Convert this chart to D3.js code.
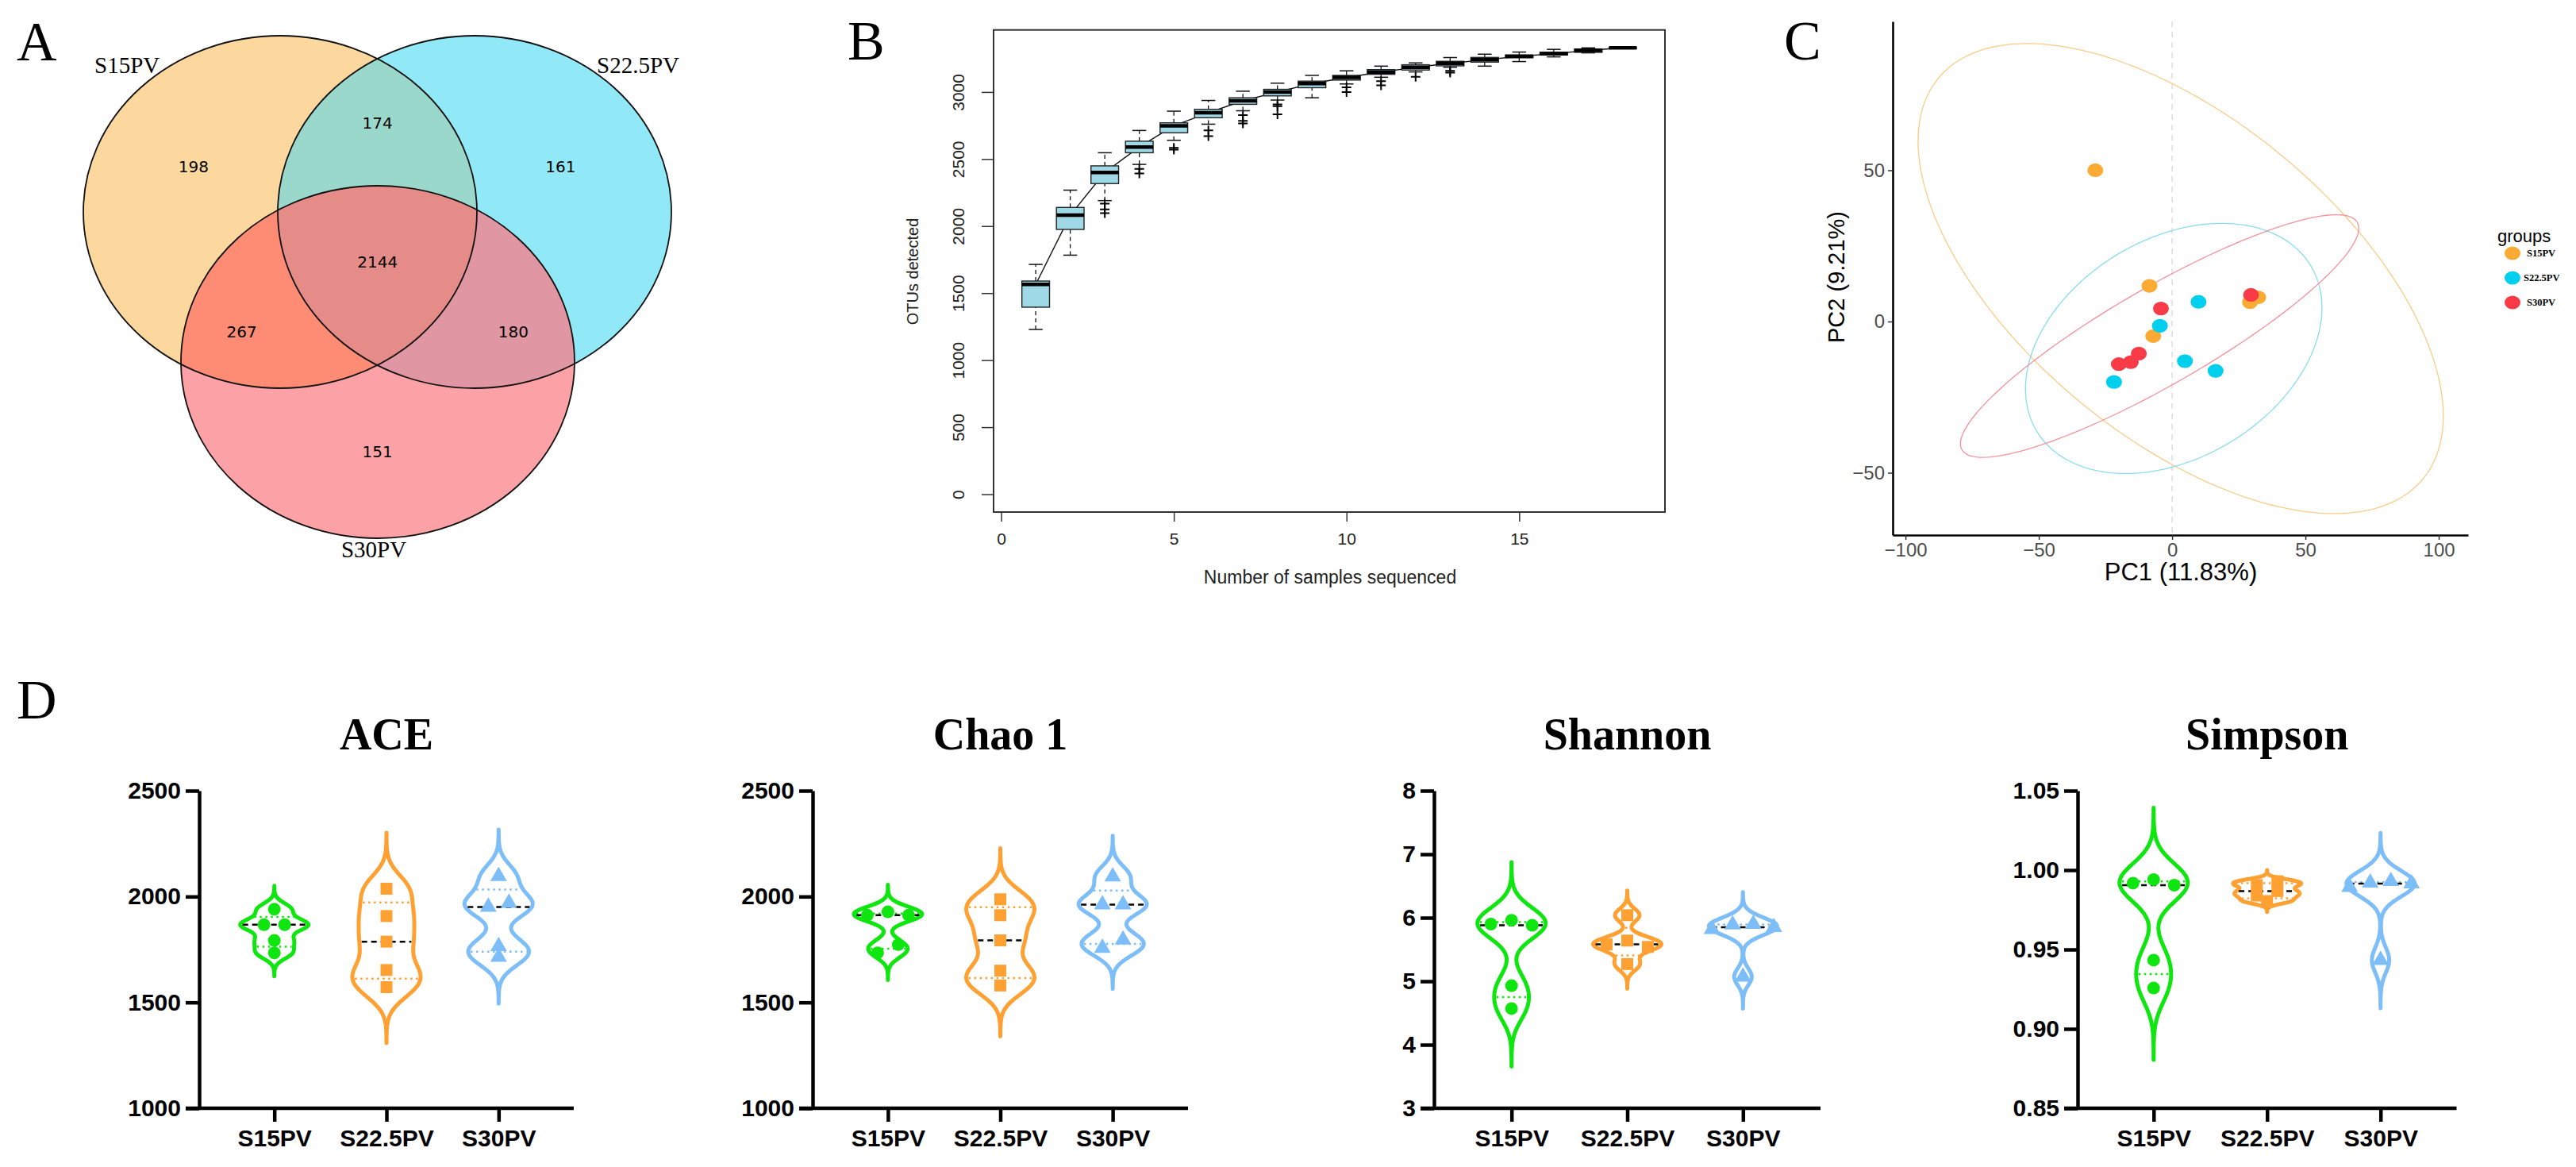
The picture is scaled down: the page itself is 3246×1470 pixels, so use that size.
<!DOCTYPE html>
<html>
<head>
<meta charset="utf-8">
<title>OTU overlap, rarefaction, PCA and alpha diversity</title>
<script src="https://d3js.org/d3.v7.min.js"></script>
<style>
  body { margin: 0; background: #fff; }
  .serif { font-family: "Liberation Serif", "Times New Roman", serif; }
  .sans { font-family: "Liberation Sans", Arial, sans-serif; }
</style>
</head>
<body>
<div id="fig"></div>
<script>
// ---------------- data ----------------
const groups = ["S15PV", "S22.5PV", "S30PV"];

// A: shared / unique OTUs
const vennRegions = ["S15PV", "S15PV&S22.5PV", "S22.5PV", "all", "S15PV&S30PV", "S22.5PV&S30PV", "S30PV"];
const vennCounts = [198, 174, 161, 2144, 267, 180, 151];

// B: OTU accumulation boxes, one per number of samples
const sampleN   = d3.range(1, 19);
const boxLow    = [1229, 1783, 2190, 2460, 2640, 2760, 2860, 2940, 2957, 3060, 3110, 3150, 3185, 3193, 3227, 3262, 3292, 3330];
const boxQ1     = [1395, 1975, 2317, 2547, 2696, 2808, 2908, 2971, 3032, 3089, 3132, 3164, 3195, 3223, 3256, 3276, 3296, 3330];
const boxMedian = [1565, 2081, 2400, 2590, 2748, 2845, 2934, 3000, 3063, 3109, 3149, 3184, 3214, 3240, 3266, 3286, 3310, 3330];
const boxQ3     = [1590, 2139, 2449, 2633, 2770, 2871, 2957, 3020, 3081, 3124, 3167, 3203, 3229, 3258, 3276, 3296, 3321, 3330];
const boxHigh   = [1714, 2268, 2547, 2713, 2857, 2937, 3006, 3066, 3124, 3158, 3193, 3217, 3257, 3282, 3298, 3318, 3329, 3330];
const boxOutliers = [[], [], [2168, 2125, 2096], [2426, 2392], [2584, 2570], [2713, 2670], [2828, 2785, 2765],
  [2908, 2895, 2834], [], [3035, 3000], [3081, 3050], [3114], [3158, 3144], [], [], [], [], []];
const otuTicks = [0, 500, 1000, 1500, 2000, 2500, 3000];
const sampleTicks = [0, 5, 10, 15];

// C: PCA scores
const pcaGroup = ["S15PV", "S15PV", "S15PV", "S15PV", "S15PV",
  "S22.5PV", "S22.5PV", "S22.5PV", "S22.5PV", "S22.5PV",
  "S30PV", "S30PV", "S30PV", "S30PV", "S30PV"];
const pc1 = [-28.8, -8.5, -7.1, 29.2, 32.3, 9.9, -4.6, 4.8, 16.3, -21.8, -4.2, 29.6, -12.5, -15.5, -20.0];
const pc2 = [50.0, 11.8, -4.8, 6.4, 8.0, 6.5, -1.4, -13.1, -16.3, -20.0, 4.3, 8.8, -10.6, -13.4, -14.1];
// confidence ellipses: centre, half extents on PC1/PC2, correlation
const ellCx = [3.2, 0.6, -4.7];
const ellCy = [14.2, -8.9, -4.8];
const ellSx = [98.5, 55.6, 74.7];
const ellSy = [77.7, 41.35, 40.1];
const ellRho = [-0.585, 0.325, 0.888];
const pcTicks = [-100, -50, 0, 50, 100];
const pc2Ticks = [-50, 0, 50];

// D: alpha diversity
const metrics = ["ACE", "Chao 1", "Shannon", "Simpson"];
const metricDomain = [[1000, 2500], [1000, 2500], [3, 8], [0.85, 1.05]];
const metricTicks = [[1000, 1500, 2000, 2500], [1000, 1500, 2000, 2500], [3, 4, 5, 6, 7, 8], [0.85, 0.90, 0.95, 1.00, 1.05]];
const metricFormat = ["d", "d", "d", ".2f"];
const aceValues = [[1940, 1867, 1867, 1793, 1734], [2037, 1908, 1787, 1653, 1572], [2096, 1970, 1951, 1765, 1715]];
const chaoValues = [[1928, 1912, 1912, 1773, 1734], [1987, 1912, 1793, 1650, 1580], [2094, 1962, 1962, 1796, 1757]];
const shannonValues = [[5.96, 5.90, 5.88, 4.93, 4.57], [6.04, 5.64, 5.58, 5.54, 5.27], [5.90, 5.89, 5.85, 5.82, 5.07]];
const simpsonValues = [[0.994, 0.9918, 0.9905, 0.9433, 0.9257], [0.9930, 0.9905, 0.9868, 0.9840, 0.9805], [0.993, 0.992, 0.9915, 0.9893, 0.9433]];
const metricValues = [aceValues, chaoValues, shannonValues, simpsonValues];

// ---------------- drawing ----------------
const W = 3246, H = 1470;
const svg = d3.select("#fig").append("svg").attr("width", W).attr("height", H)
  .style("background", "#fff");

function panelLetter(t, x, y) {
  svg.append("text").attr("class", "serif").attr("x", x).attr("y", y)
    .attr("font-size", 70).text(t);
}
panelLetter("A", 21, 76);
panelLetter("B", 1068, 75);
panelLetter("C", 2248, 75);
panelLetter("D", 21, 905);

// ===== A: Venn =====
const venn = {rx: 248, ry: 222, cx: [353, 598, 476], cy: [267, 267, 456]};
const vennFill = ["#FDD89E", "#91E9F8", "#FCA1A6"];
const gA = svg.append("g");
const defs = svg.append("defs");
groups.forEach((g, i) => {
  defs.append("clipPath").attr("id", "vclip" + i)
    .append("ellipse").attr("cx", venn.cx[i]).attr("cy", venn.cy[i]).attr("rx", venn.rx).attr("ry", venn.ry);
});
function vEll(parent, i, fill) {
  return parent.append("ellipse").attr("cx", venn.cx[i]).attr("cy", venn.cy[i])
    .attr("rx", venn.rx).attr("ry", venn.ry).attr("fill", fill);
}
groups.forEach((g, i) => vEll(gA, i, vennFill[i]));
vEll(gA.append("g").attr("clip-path", "url(#vclip0)"), 1, "#9AD8CB");
vEll(gA.append("g").attr("clip-path", "url(#vclip0)"), 2, "#FE8C74");
vEll(gA.append("g").attr("clip-path", "url(#vclip1)"), 2, "#E196A3");
vEll(gA.append("g").attr("clip-path", "url(#vclip0)").append("g").attr("clip-path", "url(#vclip1)"), 2, "#E58C89");
groups.forEach((g, i) => vEll(gA, i, "none").attr("stroke", "#111").attr("stroke-width", 1.8));

// label anchors relative to the triple-overlap centre, in ellipse radii
const vennAnchor = [[-0.935, -0.54], [0, -0.79], [0.93, -0.54], [0, 0], [-0.69, 0.395], [0.69, 0.395], [0, 1.075]];
const vcx = d3.mean(venn.cx), vcy = 330;
gA.selectAll("text.cnt").data(vennCounts).join("text")
  .attr("class", "cnt")
  .attr("x", (d, i) => vcx + vennAnchor[i][0] * venn.rx)
  .attr("y", (d, i) => vcy + vennAnchor[i][1] * venn.ry)
  .attr("dy", "0.36em").attr("text-anchor", "middle")
  .attr("font-family", "'DejaVu Sans', 'Noto Sans', sans-serif").attr("font-size", 20)
  .text(d => d);
const vennLabelPos = [[119, 92, "start"], [752, 92, "start"], [471, 702, "middle"]];
groups.forEach((g, i) => {
  gA.append("text").attr("class", "serif").attr("x", vennLabelPos[i][0]).attr("y", vennLabelPos[i][1])
    .attr("text-anchor", vennLabelPos[i][2]).attr("font-size", 29).text(g);
});

// ===== B: rarefaction boxplots =====
const bx = d3.scaleLinear().domain([-0.22, 19.22]).range([1252, 2098]);
const by = d3.scaleLinear().domain([-133, 3463]).range([645, 37.7]);
const gB = svg.append("g").attr("class", "sans");
const halfBox = (bx(1.4) - bx(1)) ;
gB.append("path")
  .attr("d", d3.line().x((d, i) => bx(sampleN[i])).y(d => by(d))(boxMedian))
  .attr("fill", "none").attr("stroke", "#111").attr("stroke-width", 1.4);
sampleN.forEach((n, i) => {
  const cx = bx(n);
  const g = gB.append("g");
  // whiskers
  [[boxQ3[i], boxHigh[i]], [boxLow[i], boxQ1[i]]].forEach(([a, b]) => {
    if (b > a) g.append("line").attr("x1", cx).attr("x2", cx).attr("y1", by(a)).attr("y2", by(b))
      .attr("stroke", "#111").attr("stroke-width", 1.3).attr("stroke-dasharray", "5,4");
  });
  [boxLow[i], boxHigh[i]].forEach(v => {
    g.append("line").attr("x1", cx - halfBox / 2).attr("x2", cx + halfBox / 2)
      .attr("y1", by(v)).attr("y2", by(v)).attr("stroke", "#111").attr("stroke-width", 1.5);
  });
  g.append("rect").attr("x", cx - halfBox).attr("width", 2 * halfBox)
    .attr("y", by(boxQ3[i])).attr("height", Math.max(0.5, by(boxQ1[i]) - by(boxQ3[i])))
    .attr("fill", "#9FD9E6").attr("stroke", "#222").attr("stroke-width", 1.4);
  g.append("line").attr("x1", cx - halfBox).attr("x2", cx + halfBox)
    .attr("y1", by(boxMedian[i])).attr("y2", by(boxMedian[i]))
    .attr("stroke", "#000").attr("stroke-width", 4.5);
  boxOutliers[i].forEach(v => {
    g.append("path").attr("d", "M-6,0H6M0,-6V6")
      .attr("transform", `translate(${cx},${by(v)})`).attr("stroke", "#000").attr("stroke-width", 2);
  });
});
gB.append("rect").attr("x", bx(-0.22)).attr("y", by(3463))
  .attr("width", bx(19.22) - bx(-0.22)).attr("height", by(-133) - by(3463))
  .attr("fill", "none").attr("stroke", "#333").attr("stroke-width", 2);
const yAxB = gB.append("g").attr("transform", `translate(${bx(-0.22)},0)`)
  .call(d3.axisLeft(by).tickValues(otuTicks).tickFormat(d3.format("d")).tickSize(15).tickSizeOuter(0));
yAxB.select(".domain").remove();
yAxB.selectAll(".tick line").attr("stroke", "#333").attr("stroke-width", 1.5);
yAxB.selectAll(".tick text").attr("x", null).attr("dy", null)
  .attr("transform", "translate(-37,0) rotate(-90)").attr("text-anchor", "middle")
  .attr("font-size", 21).attr("fill", "#222").style("font-family", "'Liberation Sans', Arial, sans-serif");
const xAxB = gB.append("g").attr("transform", `translate(0,${by(-133)})`)
  .call(d3.axisBottom(bx).tickValues(sampleTicks).tickSize(12).tickPadding(14).tickSizeOuter(0));
xAxB.select(".domain").attr("d", `M${bx(0)},0H${bx(15)}`).attr("stroke", "#333").attr("stroke-width", 1.5);
xAxB.selectAll(".tick line").attr("stroke", "#333").attr("stroke-width", 1.5);
xAxB.selectAll(".tick text").attr("font-size", 21).attr("fill", "#222")
  .style("font-family", "'Liberation Sans', Arial, sans-serif");
gB.append("text").attr("x", 1676).attr("y", 735).attr("text-anchor", "middle")
  .attr("font-size", 23).attr("fill", "#222").text("Number of samples sequenced");
gB.append("text").attr("transform", "translate(1157,342) rotate(-90)").attr("text-anchor", "middle")
  .attr("font-size", 20).attr("fill", "#222").text("OTUs detected");

// ===== C: PCA =====
const px = d3.scaleLinear().domain([-104.8, 111]).range([2385, 3110]);
const py = d3.scaleLinear().domain([-70.6, 99.2]).range([674, 27]);
const pcaColor = d3.scaleOrdinal().domain(groups).range(["#FBAA33", "#00CFEE", "#F83B46"]);
const ellColor = ["#FBCB87", "#8ADDF0", "#F4929A"];
const gC = svg.append("g").attr("class", "sans");
gC.append("line").attr("x1", px(0)).attr("x2", px(0)).attr("y1", py(99.2)).attr("y2", py(-70.6))
  .attr("stroke", "#d6d6d6").attr("stroke-width", 1.3).attr("stroke-dasharray", "7,6");
groups.forEach((g, k) => {
  const pts = d3.range(0, 181).map(j => {
    const t = j / 180 * 2 * Math.PI;
    return [ellCx[k] + ellSx[k] * Math.cos(t),
            ellCy[k] + ellSy[k] * (ellRho[k] * Math.cos(t) + Math.sqrt(1 - ellRho[k] ** 2) * Math.sin(t))];
  });
  gC.append("path").attr("d", d3.line().x(d => px(d[0])).y(d => py(d[1]))(pts) + "Z")
    .attr("fill", "none").attr("stroke", ellColor[k]).attr("stroke-width", 1.3);
});
gC.selectAll("ellipse.pt").data(pc1).join("ellipse").attr("class", "pt")
  .attr("cx", d => px(d)).attr("cy", (d, i) => py(pc2[i]))
  .attr("rx", 10).attr("ry", 8.6).attr("fill", (d, i) => pcaColor(pcaGroup[i]));
const yAxC = gC.append("g").attr("transform", `translate(${px(-104.8)},0)`)
  .call(d3.axisLeft(py).tickValues(pc2Ticks).tickSize(6).tickPadding(4).tickSizeOuter(0));
const xAxC = gC.append("g").attr("transform", `translate(0,${py(-70.6)})`)
  .call(d3.axisBottom(px).tickValues(pcTicks).tickSize(6).tickPadding(4).tickSizeOuter(0));
[yAxC, xAxC].forEach(a => {
  a.select(".domain").attr("stroke", "#000").attr("stroke-width", 2.6);
  a.selectAll(".tick line").attr("stroke", "#333").attr("stroke-width", 1.5);
  a.selectAll(".tick text").attr("font-size", 24).attr("fill", "#4d4d4d")
    .style("font-family", "'Liberation Sans', Arial, sans-serif");
});
gC.append("text").attr("x", 2748).attr("y", 731).attr("text-anchor", "middle")
  .attr("font-size", 31).text("PC1 (11.83%)");
gC.append("text").attr("transform", "translate(2324,349) rotate(-90)").attr("text-anchor", "middle")
  .attr("font-size", 29).text("PC2 (9.21%)");
gC.append("text").attr("x", 3147).attr("y", 305).attr("font-size", 22).text("groups");
groups.forEach((g, k) => {
  const y = 319 + k * 31;
  gC.append("ellipse").attr("cx", 3166).attr("cy", y).attr("rx", 10).attr("ry", 8.6).attr("fill", pcaColor(g));
  gC.append("text").attr("class", "serif").attr("x", k === 1 ? 3180 : 3184).attr("y", y).attr("dy", "0.35em")
    .attr("font-size", 12.5).attr("font-weight", "bold").text(g);
});

// ===== D: violins =====
const dPanels = [[251, 723], [1024, 1497], [1807, 2294], [2618, 3095.5]];
const violinColor = ["#0FE60F", "#FFA033", "#7DBEF8"];
const violinSymbol = [d3.symbolCircle, d3.symbolSquare, d3.symbolTriangle];
const symbolSize = [200, 225, 190];
const bwFactor = 0.37, tailSpan = 3.8, maxHalf = 43;
const dTop = 996, dBottom = 1396;

function quantile6(sorted, p) {
  const n = sorted.length, h = (n + 1) * p;
  const lo = Math.max(1, Math.min(n, Math.floor(h))), hi = Math.max(1, Math.min(n, Math.ceil(h)));
  return sorted[lo - 1] + (h - Math.floor(h)) * (sorted[hi - 1] - sorted[lo - 1]);
}

metrics.forEach((m, mi) => {
  const [x0, x1] = dPanels[mi];
  const xs = d3.scalePoint().domain(groups).range([x0, x1]).padding(0.67);
  const ys = d3.scaleLinear().domain(metricDomain[mi]).range([dBottom, dTop]);
  const g = svg.append("g");
  g.append("text").attr("class", "serif").attr("x", xs(groups[1])).attr("y", 944)
    .attr("text-anchor", "middle").attr("font-size", 56).attr("font-weight", "bold").text(m);

  metricValues[mi].forEach((vals, gi) => {
    const cx = xs(groups[gi]);
    const h = bwFactor * d3.deviation(vals);
    const dens = v => d3.sum(vals, d => Math.exp(-0.5 * ((v - d) / h) ** 2));
    const lo = d3.min(vals) - tailSpan * h, hi = d3.max(vals) + tailSpan * h;
    const grid = d3.range(0, 161).map(j => lo + (hi - lo) * j / 160);
    const peak = d3.max(grid, dens);
    const half = v => dens(v) / peak * maxHalf;
    const col = violinColor[gi];
    g.append("path")
      .attr("d", d3.area().curve(d3.curveBasis).y(v => ys(v)).x0(v => cx - half(v)).x1(v => cx + half(v))(grid))
      .attr("fill", "none").attr("stroke", col).attr("stroke-width", 5).attr("stroke-linejoin", "round");
    const sorted = vals.slice().sort(d3.ascending);
    [0.25, 0.75].forEach(p => {
      const q = quantile6(sorted, p), w = half(q) - 3;
      g.append("line").attr("x1", cx - w).attr("x2", cx + w).attr("y1", ys(q)).attr("y2", ys(q))
        .attr("stroke", col).attr("stroke-width", 2.5).attr("stroke-dasharray", "2.5,4.5");
    });
    const med = quantile6(sorted, 0.5), wm = half(med) - 3;
    g.append("line").attr("x1", cx - wm).attr("x2", cx + wm).attr("y1", ys(med)).attr("y2", ys(med))
      .attr("stroke", "#000").attr("stroke-width", 2.5).attr("stroke-dasharray", "7,5");

    // simple swarm: rows of near-equal values spread sideways
    const desc = vals.slice().sort(d3.descending);
    const rows = [];
    desc.forEach(v => {
      const r = rows[rows.length - 1];
      if (r && Math.abs(ys(v) - ys(r[0])) < 12) r.push(v); else rows.push([v]);
    });
    const oddSlots = [0, -1, 1, -2, 2], evenSlots = [0.5, -0.5, 1.5, -1.5];
    const pts = [];
    rows.forEach(r => r.forEach((v, k) => {
      const slot = r.length % 2 ? oddSlots[k] : evenSlots[k];
      pts.push([cx + slot * 26, ys(v)]);
    }));
    g.selectAll(null).data(pts).join("path")
      .attr("d", d3.symbol(violinSymbol[gi], symbolSize[gi])())
      .attr("transform", d => `translate(${d[0]},${d[1]})`).attr("fill", col);
  });

  const yAx = g.append("g").attr("transform", `translate(${x0},0)`)
    .call(d3.axisLeft(ys).tickValues(metricTicks[mi]).tickFormat(d3.format(metricFormat[mi]))
      .tickSize(17).tickPadding(6).tickSizeOuter(0));
  const xAx = g.append("g").attr("transform", `translate(0,${dBottom})`)
    .call(d3.axisBottom(xs).tickSize(17).tickPadding(10).tickSizeOuter(0));
  xAx.select(".domain").attr("d", `M${x0 - 17},0H${x1}`);
  [yAx, xAx].forEach(a => {
    a.select(".domain").attr("stroke", "#000").attr("stroke-width", 4.5);
    a.selectAll(".tick line").attr("stroke", "#000").attr("stroke-width", 4.5);
    a.selectAll(".tick text").attr("font-size", 30).attr("font-weight", "bold").attr("fill", "#000")
      .style("font-family", "'Liberation Sans', Arial, sans-serif");
  });
});
</script>
</body>
</html>
